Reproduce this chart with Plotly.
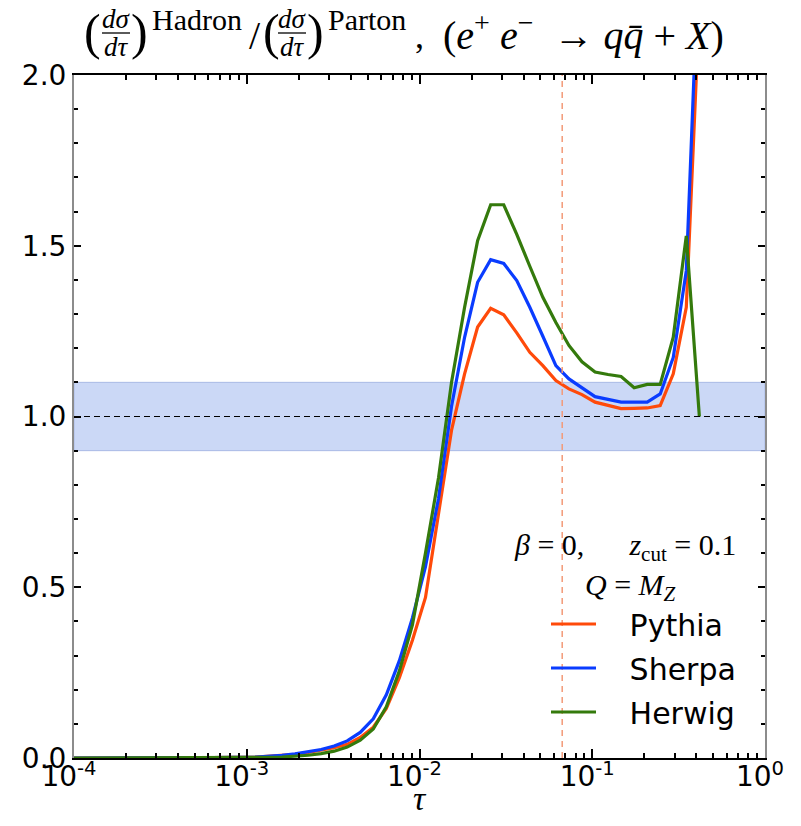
import plotly.graph_objects as go

# ---------------- data ----------------
tau = [1e-4, 3.16e-4, 6.31e-4, 0.00113, 0.001344, 0.0016, 0.001903, 0.002265,
       0.002694, 0.003206, 0.003815, 0.004539, 0.005401, 0.006427, 0.007647,
       0.009099, 0.01083, 0.01288, 0.01533, 0.01824, 0.0217, 0.02582, 0.03073,
       0.03656, 0.0435, 0.05176, 0.06158, 0.07328, 0.0872, 0.1038, 0.1234,
       0.1469, 0.1748, 0.208, 0.2474, 0.2944, 0.3503, 0.4169]

pythia = [0.0, 0.0, 0.001, 0.003, 0.005, 0.008, 0.011, 0.016,
          0.022, 0.03, 0.04, 0.06, 0.09, 0.145, 0.235,
          0.345, 0.47, 0.71, 0.96, 1.125, 1.262, 1.317, 1.298,
          1.245, 1.188, 1.149, 1.105, 1.081, 1.064, 1.042, 1.032,
          1.023, 1.024, 1.025, 1.032, 1.125, 1.32, 2.2]

sherpa = [0.0, 0.0, 0.001, 0.003, 0.005, 0.008, 0.012, 0.018,
          0.025, 0.035, 0.05, 0.075, 0.115, 0.185, 0.285,
          0.41, 0.56, 0.76, 1.03, 1.232, 1.393, 1.459, 1.448,
          1.398, 1.32, 1.235, 1.149, 1.110, 1.085, 1.058, 1.05,
          1.042, 1.042, 1.042, 1.066, 1.173, 1.427, 2.4]

herwig = [0.0, 0.0, 0.0, 0.001, 0.002, 0.003, 0.005, 0.008,
          0.013, 0.02, 0.032, 0.052, 0.085, 0.15, 0.255,
          0.39, 0.60, 0.82, 1.10, 1.32, 1.515, 1.62, 1.62,
          1.533, 1.44, 1.349, 1.275, 1.208, 1.16, 1.130, 1.123,
          1.117, 1.084, 1.094, 1.094, 1.232, 1.529, 1.00]

series_names = ["Pythia", "Sherpa", "Herwig"]
series_colors = ["#ff4a0a", "#0a3cff", "#347a0c"]

band_low, band_high = 0.9, 1.1
ref_line = 1.0
tau_mark = 0.067

x_tickvals = [1e-4, 1e-3, 1e-2, 1e-1, 1]
x_ticktext = ["10<sup>-4</sup>", "10<sup>-3</sup>", "10<sup>-2</sup>",
              "10<sup>-1</sup>", "10<sup>0</sup>"]
y_tickvals = [0.0, 0.5, 1.0, 1.5, 2.0]
y_ticktext = ["0.0", "0.5", "1.0", "1.5", "2.0"]

# ---------------- layout geometry ----------------
# the page body has an 8px margin, so the figure is drawn 8px in from the corner
OFF = 8
W, H = 801 - OFF, 826 - OFF
PX0, PX1, PY0, PY1 = 74, 765, 75, 758          # plot area in page pixels
L, T = PX0 - OFF, PY0 - OFF
R, B = W - (PX1 - OFF), H - (PY1 - OFF)
PW, PH = PX1 - PX0, PY1 - PY0


def px(x):
    return (x - PX0) / PW


def py(y):
    return (PY1 - y) / PH


SERIF = "Liberation Serif"
SANS = "DejaVu Sans"
nb = "\u00a0"

fig = go.Figure()

for name, vals, col in zip(series_names, [pythia, sherpa, herwig], series_colors):
    fig.add_trace(go.Scatter(x=tau, y=vals, mode="lines", name=nb * 3 + name,
                             legendgroup=name,
                             line=dict(color=col, width=3.2)))

# band and reference lines
fig.add_shape(type="rect", xref="paper", yref="y", x0=0, x1=1,
              y0=band_low, y1=band_high, fillcolor="#cbd8f6",
              line=dict(color="#a9bae6", width=1), layer="below")
fig.add_shape(type="line", xref="paper", yref="y", x0=0, x1=1,
              y0=ref_line, y1=ref_line, line=dict(color="black", width=1.2, dash="6px,4px"))
fig.add_shape(type="line", xref="x", yref="paper", x0=tau_mark, x1=tau_mark,
              y0=0, y1=1, line=dict(color="#f39a78", width=1.5, dash="6px,5px"))

ann = []


def add_text(text, x, y, size, family=SERIF, xanchor="center"):
    ann.append(dict(text=text, x=px(x), y=py(y), xref="paper", yref="paper",
                    xanchor=xanchor, yanchor="middle", showarrow=False,
                    font=dict(family=family, size=size, color="black")))


# title built from pieces
for (lp, fx, rp, supx, sup) in [(92, 116, 139, 150, "Hadron"), (271, 292, 315, 326, "Parton")]:
    add_text("(", lp, 32, 50)
    add_text("<i>dσ</i>", fx, 19, 27)
    add_text("<i>dτ</i>", fx, 47, 27)
    add_text(")", rp, 32, 50)
    add_text(sup, supx, 19, 30, xanchor="left")
    fig.add_shape(type="line", xref="paper", yref="paper", x0=px(fx - 14), x1=px(fx + 14),
                  y0=py(33), y1=py(33), line=dict(color="black", width=1.3))
add_text("/", 255, 35, 40)
add_text(",", 419, 36, 36)
add_text("(<i>e</i><sup>+</sup>" + nb + "<i>e</i><sup>−</sup>" + nb * 2 +
         "→" + nb + "<i>q</i><i>q̄</i> + <i>X</i>)", 583, 32, 40)

# legend header text
add_text("<i>β</i> = 0," + nb * 6 + "<i>z</i><sub>cut</sub> = 0.1", 625, 547, 30)
add_text("<i>Q</i> = <i>M</i><sub><i>Z</i></sub>", 630, 587, 30)

# axis title
add_text("<i>τ</i>", 420, 798, 34)

fig.update_layout(
    width=W, height=H,
    margin=dict(l=L, r=R, t=T, b=B, pad=0),
    paper_bgcolor="white", plot_bgcolor="white",
    annotations=ann,
    showlegend=True,
    legend=dict(x=px(546), y=py(598), xanchor="left", yanchor="top",
                font=dict(family=SANS, size=30, color="black"),
                bgcolor="rgba(0,0,0,0)", borderwidth=0,
                itemwidth=45, tracegroupgap=2, traceorder="grouped"),
    xaxis=dict(type="log", range=[-4, 0], tickvals=x_tickvals, ticktext=x_ticktext,
               ticks="inside", ticklen=9, tickwidth=2, tickcolor="black",
               showline=True, linecolor="black", linewidth=1.5, mirror="ticks",
               showgrid=False, zeroline=False, automargin=False,
               ticklabelstandoff=-7, ticklabelshift=-5,
               tickfont=dict(family=SANS, size=28, color="black"),
               minor=dict(ticks="inside", ticklen=5, tickwidth=1.5, tickcolor="black",
                          dtick="D1", showgrid=False)),
    yaxis=dict(range=[0, 2], tickvals=y_tickvals, ticktext=y_ticktext,
               ticks="inside", ticklen=7, tickwidth=2, tickcolor="black",
               showline=True, linecolor="#8c8c8c", linewidth=2, mirror="ticks",
               showgrid=False, zeroline=False, automargin=False,
               tickfont=dict(family=SANS, size=28, color="black"),
               minor=dict(ticks="inside", ticklen=4, tickwidth=1.5, tickcolor="black",
                          dtick=0.1, showgrid=False)),
)

fig.write_html("out.html")
